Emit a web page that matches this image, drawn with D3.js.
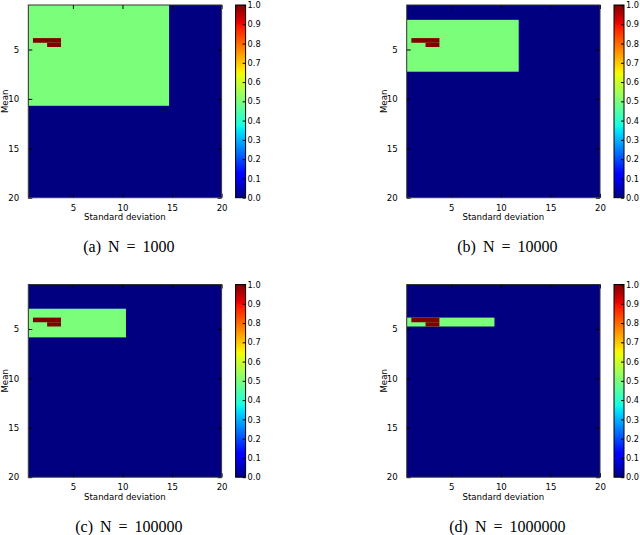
<!DOCTYPE html>
<html>
<head>
<meta charset="utf-8">
<script src="https://cdn.jsdelivr.net/npm/d3@7"></script>
<style>
  html, body { margin: 0; padding: 0; background: #fff; }
  svg { display: block; }
</style>
</head>
<body>
<svg id="chart" width="640" height="535"></svg>
<script>
// ---------------- data ----------------
const panelLetters = ["a", "b", "c", "d"];
const sampleSizes = ["1000", "10000", "100000", "1000000"];
const stdDomain = [0.5, 20];
const meanDomain = [0.5, 20];
const axisTicks = [5, 10, 15, 20];
const colorbarTicks = [0.0, 0.1, 0.2, 0.3, 0.4, 0.5, 0.6, 0.7, 0.8, 0.9, 1.0];
const backgroundValue = 0.0;
// region where the value is 0.5, per panel: [std from, std to], [mean from, mean to]
const greenValue = 0.5;
const greenStd = [[0.5, 14.7], [0.5, 11.8], [0.5, 10.35], [0.5, 9.35]];
const greenMean = [[0.5, 10.7], [2.0, 7.25], [2.95, 5.85], [3.85, 4.75]];
// cells where the value is 1.0 (same in every panel)
const redValue = 1.0;
const redStd = [[0.97, 3.8], [2.4, 3.8]];
const redMean = [[3.85, 4.32], [4.32, 4.75]];

// jet colormap segment data (matplotlib)
const jetR = [[0, 0], [0.35, 0], [0.66, 1], [0.89, 1], [1, 0.5]];
const jetG = [[0, 0], [0.125, 0], [0.375, 1], [0.64, 1], [0.91, 0], [1, 0]];
const jetB = [[0, 0.5], [0.11, 1], [0.34, 1], [0.65, 0], [1, 0]];

function seg(stops, v) {
  const s = d3.scaleLinear().domain(stops.map(d => d[0])).range(stops.map(d => d[1])).clamp(true);
  return s(v);
}
function jet(v) {
  return d3.rgb(Math.round(seg(jetR, v) * 255), Math.round(seg(jetG, v) * 255), Math.round(seg(jetB, v) * 255)).toString();
}

// ---------------- layout ----------------
const plotW = 193.3, plotH = 192.7;
const origins = [[28.3, 5], [406.7, 5], [28.3, 284.5], [406.7, 284.5]];
const tickFont = "DejaVu Sans, sans-serif";
const fs = 8.6;

const svg = d3.select("#chart");
const defs = svg.append("defs");

// colorbar gradient
const grad = defs.append("linearGradient").attr("id", "jetgrad")
  .attr("x1", 0).attr("y1", 1).attr("x2", 0).attr("y2", 0);
d3.range(0, 1.0001, 0.01).forEach(t => {
  grad.append("stop").attr("offset", t).attr("stop-color", jet(t));
});

panelLetters.forEach((letter, i) => {
  const [ox, oy] = origins[i];
  const g = svg.append("g").attr("transform", `translate(${ox},${oy})`);
  const x = d3.scaleLinear().domain(stdDomain).range([0, plotW]);
  const y = d3.scaleLinear().domain(meanDomain).range([0, plotH]);

  defs.append("clipPath").attr("id", "clip" + i)
    .append("rect").attr("width", plotW).attr("height", plotH);
  const cells = g.append("g").attr("clip-path", `url(#clip${i})`);

  // background
  cells.append("rect")
    .attr("x", x(stdDomain[0])).attr("y", y(meanDomain[0]))
    .attr("width", x(stdDomain[1]) - x(stdDomain[0]))
    .attr("height", y(meanDomain[1]) - y(meanDomain[0]))
    .attr("fill", jet(backgroundValue));
  // green region
  cells.append("rect")
    .attr("x", x(greenStd[i][0])).attr("y", y(greenMean[i][0]))
    .attr("width", x(greenStd[i][1]) - x(greenStd[i][0]))
    .attr("height", y(greenMean[i][1]) - y(greenMean[i][0]))
    .attr("fill", jet(greenValue));
  // red cells
  redStd.forEach((s, k) => {
    cells.append("rect")
      .attr("x", x(s[0])).attr("y", y(redMean[k][0]))
      .attr("width", x(s[1]) - x(s[0]))
      .attr("height", y(redMean[k][1]) - y(redMean[k][0]))
      .attr("fill", jet(redValue));
  });

  // axes (ticks inward, on all four sides)
  const tl = 4;
  const styleAxis = (sel, size) => {
    sel.select(".domain").remove();
    sel.selectAll("line").attr("stroke", "#000").attr("stroke-width", 1);
    sel.selectAll("text").attr("font-family", tickFont).attr("font-size", size || fs).attr("fill", "#000");
  };
  g.append("g").attr("transform", `translate(0,${plotH})`)
    .call(d3.axisBottom(x).tickValues(axisTicks).tickFormat(d3.format("d")).tickSizeInner(-tl).tickPadding(tl + 3))
    .call(styleAxis);
  g.append("g")
    .call(d3.axisTop(x).tickValues(axisTicks).tickFormat("").tickSizeInner(-tl))
    .call(styleAxis);
  g.append("g")
    .call(d3.axisLeft(y).tickValues(axisTicks).tickFormat(d3.format("d")).tickSizeInner(-tl).tickPadding(tl + 5))
    .call(styleAxis);
  g.append("g").attr("transform", `translate(${plotW},0)`)
    .call(d3.axisRight(y).tickValues(axisTicks).tickFormat("").tickSizeInner(-tl))
    .call(styleAxis);

  // frame
  g.append("rect").attr("width", plotW).attr("height", plotH)
    .attr("fill", "none").attr("stroke", "#333").attr("stroke-width", 1);

  // axis labels
  g.append("text").attr("x", plotW / 2).attr("y", plotH + 22.5)
    .attr("text-anchor", "middle").attr("font-family", tickFont).attr("font-size", fs)
    .text("Standard deviation");
  g.append("text").attr("transform", `translate(-20,${plotH / 2}) rotate(-90)`)
    .attr("text-anchor", "middle").attr("font-family", tickFont).attr("font-size", fs)
    .text("Mean");

  // colorbar
  const cbX = 207.3, cbW = 10;
  const cb = g.append("g").attr("transform", `translate(${cbX},0)`);
  const cy = d3.scaleLinear().domain([0, 1]).range([plotH, 0]);
  cb.append("rect").attr("width", cbW).attr("height", plotH).attr("fill", "url(#jetgrad)");
  cb.append("g").attr("transform", `translate(${cbW},0)`)
    .call(d3.axisRight(cy).tickValues(colorbarTicks).tickFormat(d3.format(".1f")).tickSizeInner(-3).tickPadding(2))
    .call(sel => styleAxis(sel, 8.2));
  cb.append("rect").attr("width", cbW).attr("height", plotH)
    .attr("fill", "none").attr("stroke", "#000").attr("stroke-width", 1);

  // caption
  g.append("text").attr("x", plotW / 2 + 4).attr("y", plotH + 54.5)
    .attr("text-anchor", "middle")
    .attr("font-family", "Liberation Serif, serif").attr("font-size", 16)
    .attr("word-spacing", 3)
    .text(`(${letter}) N = ${sampleSizes[i]}`);
});
</script>
</body>
</html>
